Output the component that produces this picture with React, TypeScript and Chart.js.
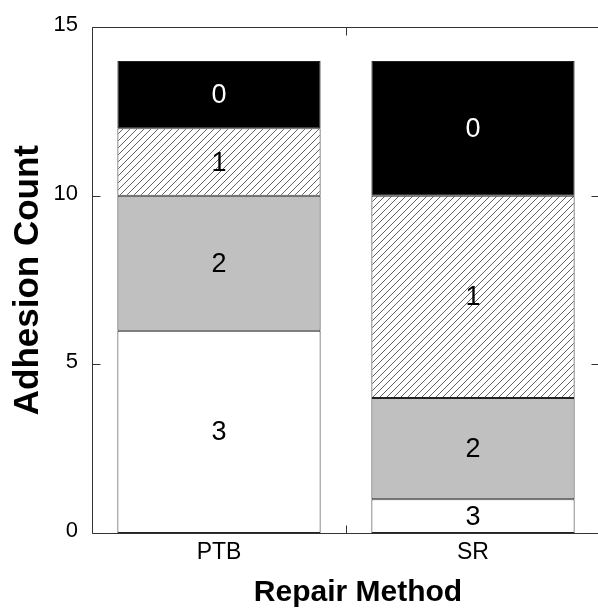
import React, { useEffect, useRef } from "react";
import { Chart, registerables } from "chart.js";

Chart.register(...registerables);

const categories = ["PTB", "SR"];
const score3 = [6, 1];
const score2 = [4, 3];
const score1 = [2, 6];
const score0 = [2, 4];
const segmentNames = ["3", "2", "1", "0"];
const yTickValues = [0, 5, 10, 15];
const xTitle = "Repair Method";
const yTitle = "Adhesion Count";

const FONT = "'Liberation Sans', Arial, Helvetica, sans-serif";

function makeHatch(): CanvasPattern | string {
  const c = document.createElement("canvas");
  const s = 7;
  c.width = s;
  c.height = s;
  const g = c.getContext("2d");
  if (!g) return "#ffffff";
  g.fillStyle = "#ffffff";
  g.fillRect(0, 0, s, s);
  g.strokeStyle = "#505050";
  g.lineWidth = 0.9;
  g.beginPath();
  g.moveTo(0, s);
  g.lineTo(s, 0);
  g.moveTo(-1, 1);
  g.lineTo(1, -1);
  g.moveTo(s - 1, s + 1);
  g.lineTo(s + 1, s - 1);
  g.stroke();
  const p = g.createPattern(c, "repeat");
  return p || "#ffffff";
}

const framePlugin = {
  id: "frame",
  afterDatasetsDraw(chart: any) {
    const { ctx, chartArea, scales } = chart;
    const { left, right, top, bottom } = chartArea;
    const L = Math.round(left) + 0.5;
    const T = Math.round(top) + 0.5;
    const B = Math.round(bottom) + 0.5;
    const R = Math.round(right) - 0.5;
    ctx.save();
    ctx.strokeStyle = "#333333";
    ctx.lineWidth = 1;
    ctx.beginPath();
    ctx.moveTo(L, T);
    ctx.lineTo(R, T);
    ctx.lineTo(R, B);
    ctx.lineTo(L, B);
    ctx.closePath();
    ctx.stroke();
    const tl = 8;
    ctx.beginPath();
    yTickValues.forEach((v) => {
      const y = Math.round(scales.y.getPixelForValue(v)) + 0.5;
      ctx.moveTo(L, y);
      ctx.lineTo(L + tl, y);
      ctx.moveTo(R, y);
      ctx.lineTo(R - tl, y);
    });
    const mid = Math.round((scales.x.getPixelForValue(0) + scales.x.getPixelForValue(1)) / 2) + 0.5;
    ctx.moveTo(mid, T);
    ctx.lineTo(mid, T + tl);
    ctx.moveTo(mid, B);
    ctx.lineTo(mid, B - tl);
    ctx.stroke();

    // segment labels
    ctx.font = `27px ${FONT}`;
    ctx.textAlign = "center";
    ctx.textBaseline = "middle";
    chart.data.datasets.forEach((ds: any, di: number) => {
      const meta = chart.getDatasetMeta(di);
      meta.data.forEach((el: any) => {
        const cy = (el.y + el.base) / 2;
        ctx.fillStyle = ds.labelColor;
        ctx.fillText(ds.label, el.x, cy + 1);
      });
    });

    // x axis title
    ctx.fillStyle = "#000";
    ctx.font = `bold 30px ${FONT}`;
    ctx.textAlign = "center";
    ctx.textBaseline = "alphabetic";
    ctx.fillText(xTitle, (left + right) / 2 + 12, 601);
    ctx.restore();
  },
};

export default function App() {
  const ref = useRef<HTMLCanvasElement>(null);
  useEffect(() => {
    if (!ref.current) return;
    const hatch = makeHatch();
    const seriesValues = [score3, score2, score1, score0];
    const fills: any[] = ["#ffffff", "#c0c0c0", hatch, "#000000"];
    const labelColors = ["#000000", "#000000", "#000000", "#ffffff"];
    const chart = new Chart(ref.current, {
      type: "bar",
      data: {
        labels: categories,
        datasets: seriesValues.map((vals, i) => ({
          label: segmentNames[i],
          data: vals,
          backgroundColor: fills[i],
          borderColor: "#222222",
          borderWidth: 1,
          borderSkipped: false,
          categoryPercentage: 0.8,
          barPercentage: 1,
          labelColor: labelColors[i],
        })) as any,
      },
      options: {
        responsive: false,
        animation: false,
        layout: { padding: { top: 25, left: 0, right: 0, bottom: 0 } },
        plugins: { legend: { display: false }, tooltip: { enabled: false } },
        scales: {
          x: {
            stacked: true,
            grid: { display: false, drawTicks: false },
            border: { display: false },
            ticks: { color: "#000", font: { family: FONT, size: 23 }, padding: 6 },
            afterFit: (s: any) => {
              s.height = 79;
            },
          },
          y: {
            stacked: true,
            min: 0,
            max: 15,
            afterBuildTicks: (s: any) => {
              s.ticks = yTickValues.map((v) => ({ value: v }));
            },
            grid: { display: false, drawTicks: false },
            border: { display: false },
            ticks: { color: "#000", font: { family: FONT, size: 22 }, padding: 14, labelOffset: -2 },
            title: {
              display: true,
              text: yTitle,
              color: "#000",
              font: { family: FONT, size: 35, weight: "bold" },
              padding: { top: 7, bottom: 0 },
            },
            afterFit: (s: any) => {
              s.width = 92;
            },
          },
        },
      },
      plugins: [framePlugin],
    });
    return () => chart.destroy();
  }, []);
  return (
    <div style={{ position: "absolute", left: 0, top: 0, width: 598, height: 612, overflow: "hidden", background: "#fff" }}>
      <canvas ref={ref} width={600} height={612} style={{ display: "block" }} />
    </div>
  );
}
